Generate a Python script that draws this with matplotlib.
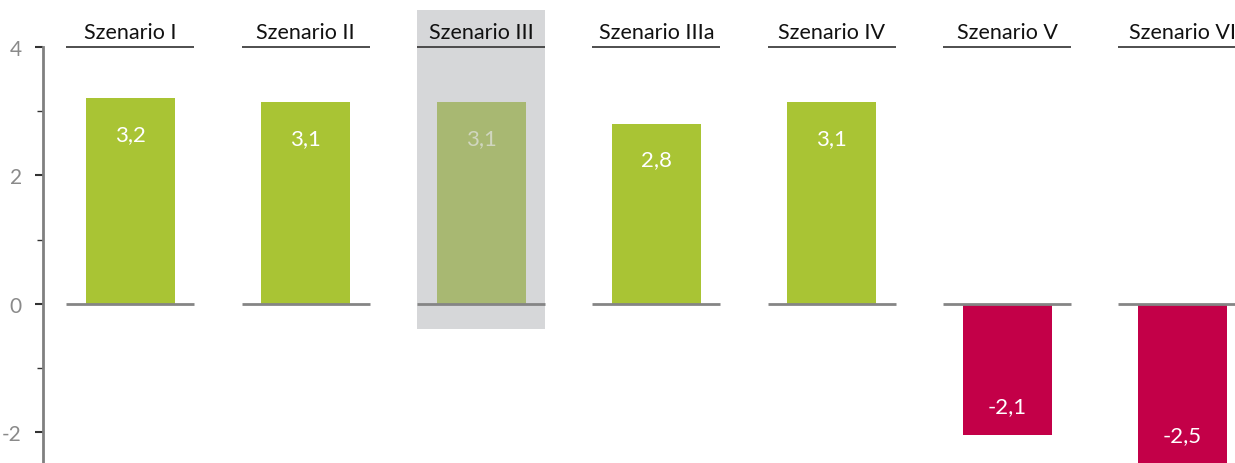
import numpy as np
import matplotlib
matplotlib.use("Agg")
import matplotlib.pyplot as plt

plt.rcParams["font.family"] = ["Lato", "DejaVu Sans"]

szenarien = ["Szenario I", "Szenario II", "Szenario III", "Szenario IIIa",
             "Szenario IV", "Szenario V", "Szenario VI"]
werte = [3.2, 3.14, 3.14, 2.8, 3.14, -2.05, -2.5]
beschriftung = ["3,2", "3,1", "3,1", "2,8", "3,1", "-2,1", "-2,5"]
hervorgehoben = "Szenario III"

GRUEN = "#a9c434"
ROT = "#c30048"
GRUEN_HELL = "#a8b872"
GRAU_HG = "#d6d7d9"

fig = plt.figure(figsize=(12.35, 4.64), dpi=100)
ax = fig.add_axes([0, 0, 1, 1])
ax.set_xlim(-0.744, 6.30)
ax.set_ylim(-2.48, 4.75)

x = np.arange(len(szenarien))
hl = szenarien.index(hervorgehoben)

# grey highlight panel behind the selected scenario
ax.axvspan(hl - 0.365, hl + 0.365, ymin=(-0.39 + 2.48) / 7.23,
           ymax=(4.58 + 2.48) / 7.23, color=GRAU_HG, zorder=0, lw=0)

farben = []
for i, w in enumerate(werte):
    if i == hl:
        farben.append(GRUEN_HELL)
    else:
        farben.append(GRUEN if w >= 0 else ROT)
ax.bar(x, werte, width=0.508, color=farben, zorder=2)

for i, (w, txt) in enumerate(zip(werte, beschriftung)):
    # zero line and header line for each category
    ax.plot([i - 0.365, i + 0.365], [0, 0], color="#858585", lw=2, zorder=3,
            solid_capstyle="butt")
    ax.plot([i - 0.365, i + 0.365], [4.0, 4.0], color="#404040", lw=1.3,
            zorder=3, solid_capstyle="butt")
    ax.text(i, 4.15, szenarien[i], ha="center", va="baseline", fontsize=15.5,
            color="#111111", zorder=4)
    ty = w - 0.55 if w >= 0 else w + 0.45
    tc = "#d0d6bf" if i == hl else "white"
    ax.text(i, ty, txt, ha="center", va="center", fontsize=16,
            color=tc, zorder=4)

for s in ["top", "right", "bottom"]:
    ax.spines[s].set_visible(False)
ax.spines["left"].set_position(("data", -0.5))
ax.spines["left"].set_color("#808080")
ax.spines["left"].set_linewidth(2)
ax.spines["left"].set_bounds(-2.48, 4.0)

ax.set_yticks([-2, 0, 2, 4])
ax.set_yticklabels(["-2", "0", "2", "4"])
ax.set_yticks([-1, 1, 3], minor=True)
ax.tick_params(axis="y", which="major", direction="out", length=6, width=1.5,
               color="#333333", labelcolor="#8a8a8a", labelsize=15, pad=9)
ax.tick_params(axis="y", which="minor", direction="out", length=4, width=1,
               color="#333333")
ax.set_xticks([])

fig.savefig("out.png", dpi=100, facecolor="white")
